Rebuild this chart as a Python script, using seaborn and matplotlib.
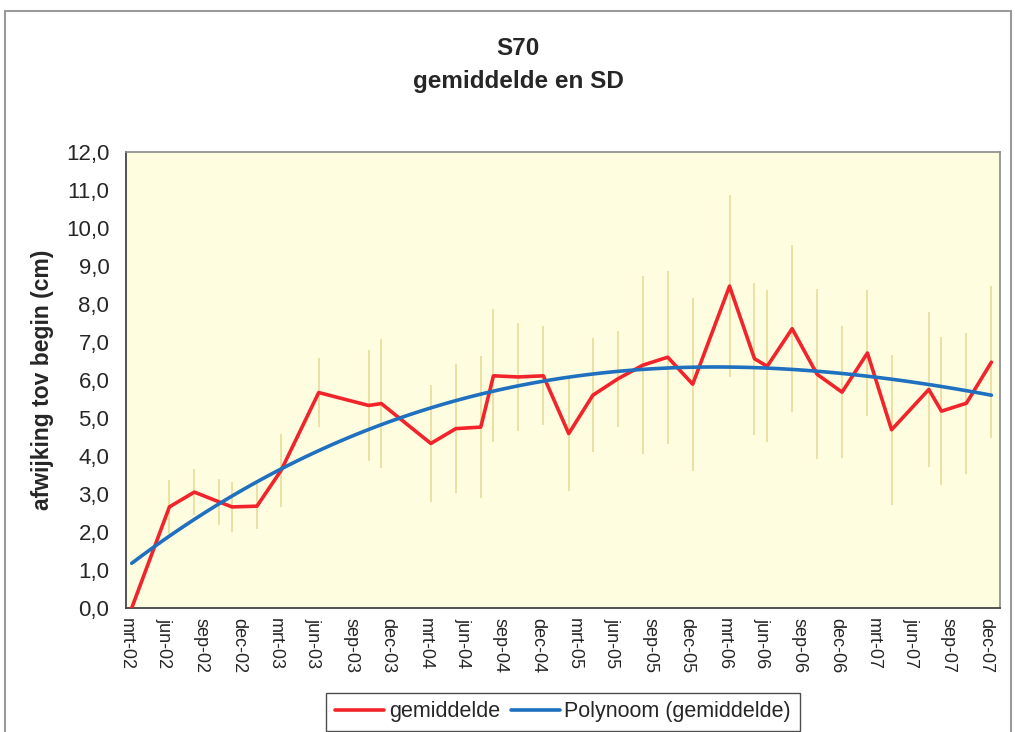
import matplotlib
matplotlib.use("Agg")
import matplotlib.pyplot as plt
import matplotlib.dates as mdates
from matplotlib.ticker import FixedLocator, FuncFormatter, MultipleLocator
from matplotlib.lines import Line2D
from matplotlib.patches import Rectangle
import seaborn as sns
import pandas as pd
import numpy as np

# ---- data ----
dates = ["2002-03-15", "2002-06-15", "2002-08-15", "2002-10-15", "2002-11-15",
         "2003-01-15", "2003-03-15", "2003-06-15", "2003-10-15", "2003-11-15",
         "2004-03-15", "2004-05-15", "2004-07-15", "2004-08-15", "2004-10-15",
         "2004-12-15", "2005-02-15", "2005-04-15", "2005-06-15", "2005-08-15",
         "2005-10-15", "2005-12-15", "2006-03-15", "2006-05-15", "2006-06-15",
         "2006-08-15", "2006-10-15", "2006-12-15", "2007-02-15", "2007-04-15",
         "2007-07-15", "2007-08-15", "2007-10-15", "2007-12-15"]
gemiddelde = [0.0, 2.66, 3.05, 2.79, 2.66, 2.68, 3.62, 5.67, 5.33, 5.38,
              4.33, 4.72, 4.76, 6.11, 6.08, 6.11, 4.59, 5.60, 6.03, 6.39,
              6.60, 5.89, 8.47, 6.56, 6.36, 7.35, 6.15, 5.68, 6.71, 4.69,
              5.75, 5.18, 5.39, 6.47]
sd = [0.0, 0.72, 0.60, 0.60, 0.66, 0.60, 0.95, 0.90, 1.45, 1.70,
      1.53, 1.69, 1.86, 1.75, 1.43, 1.30, 1.50, 1.50, 1.27, 2.35,
      2.28, 2.28, 2.40, 2.00, 2.00, 2.20, 2.24, 1.73, 1.65, 1.97,
      2.04, 1.95, 1.86, 2.00]
tick_dates = ["2002-03-01", "2002-06-01", "2002-09-01", "2002-12-01",
              "2003-03-01", "2003-06-01", "2003-09-01", "2003-12-01",
              "2004-03-01", "2004-06-01", "2004-09-01", "2004-12-01",
              "2005-03-01", "2005-06-01", "2005-09-01", "2005-12-01",
              "2006-03-01", "2006-06-01", "2006-09-01", "2006-12-01",
              "2007-03-01", "2007-06-01", "2007-09-01", "2007-12-01"]
tick_labels = ["mrt-02", "jun-02", "sep-02", "dec-02", "mrt-03", "jun-03",
               "sep-03", "dec-03", "mrt-04", "jun-04", "sep-04", "dec-04",
               "mrt-05", "jun-05", "sep-05", "dec-05", "mrt-06", "jun-06",
               "sep-06", "dec-06", "mrt-07", "jun-07", "sep-07", "dec-07"]
x_limits = ["2002-03-01", "2008-01-05"]

title = "S70\ngemiddelde en SD"
ylabel = "afwijking tov begin (cm)"

# ---- styling ----
sns.set_style("white")
plt.rcParams['font.family'] = ['Liberation Sans', 'DejaVu Sans']

RED = "#F2242B"
BLUE = "#2070C0"
ERR = "#EBE1A4"
BG = "#FFFDE0"

xnum = mdates.date2num(pd.to_datetime(dates))
tnum = mdates.date2num(pd.to_datetime(tick_dates))
xl = mdates.date2num(pd.to_datetime(x_limits))
df = pd.DataFrame({"x": xnum, "gemiddelde": gemiddelde, "sd": sd})

fig = plt.figure(figsize=(10.15, 7.32), dpi=100)
W, H = 1015, 732
ax = fig.add_axes([126 / W, 1 - 608 / H, (1000 - 126) / W, (608 - 152) / H])
ax.set_facecolor(BG)

ax.errorbar(df["x"], df["gemiddelde"], yerr=df["sd"], fmt="none",
            ecolor=ERR, elinewidth=1.4, capsize=0, zorder=1)
sns.lineplot(data=df, x="x", y="gemiddelde", color=RED, lw=2.6,
             errorbar=None, ax=ax, zorder=3, label="gemiddelde")
sns.regplot(data=df, x="x", y="gemiddelde", order=3, ci=None, scatter=False,
            line_kws=dict(color=BLUE, lw=2.6, zorder=4), ax=ax,
            label="Polynoom (gemiddelde)")

ax.set_xlim(xl[0], xl[1])
ax.set_ylim(0, 12)
ax.yaxis.set_major_locator(MultipleLocator(1))
ax.yaxis.set_major_formatter(FuncFormatter(lambda v, p: f"{v:.1f}".replace(".", ",")))
ax.xaxis.set_major_locator(FixedLocator(tnum))
ax.set_xticklabels(tick_labels, rotation=270, fontsize=13)
ax.tick_params(axis="y", labelsize=16, direction="out", length=5, width=1,
               color="#444444", pad=7)
ax.tick_params(axis="x", direction="out", length=5, width=1, color="#444444", pad=2)
ax.set_xlabel("")
ax.set_ylabel(ylabel, fontsize=16.5, fontweight="bold")
ax.yaxis.set_label_coords((54 - 126) / (1000 - 126), 0.5)
for s in ["top", "right"]:
    ax.spines[s].set_color("#8a8a8a")
    ax.spines[s].set_linewidth(1.2)
for s in ["left", "bottom"]:
    ax.spines[s].set_color("#444444")
    ax.spines[s].set_linewidth(1.3)

fig.text(518 / W, 1 - 65 / H, title, ha="center", va="center", fontsize=17.5,
         fontweight="bold", linespacing=1.6)

if ax.get_legend() is not None:
    ax.get_legend().remove()
handles = [Line2D([], [], color=RED, lw=2.6), Line2D([], [], color=BLUE, lw=2.6)]
leg = fig.legend(handles, ["gemiddelde", "Polynoom (gemiddelde)"], ncol=2,
                 loc="center", bbox_to_anchor=(563 / W, 1 - 712 / H),
                 fontsize=15.5, frameon=True, fancybox=False, edgecolor="#222222",
                 handlelength=2.3, handletextpad=0.2, columnspacing=0.5,
                 borderpad=0.4)
leg.get_frame().set_linewidth(1.0)

fig.add_artist(Rectangle((5 / W, -0.05), (1011 - 5) / W, (1 - 11 / H) + 0.05,
                         transform=fig.transFigure, fill=False,
                         edgecolor="#9a9a9a", lw=1.5))

fig.savefig("out.png", dpi=100)
